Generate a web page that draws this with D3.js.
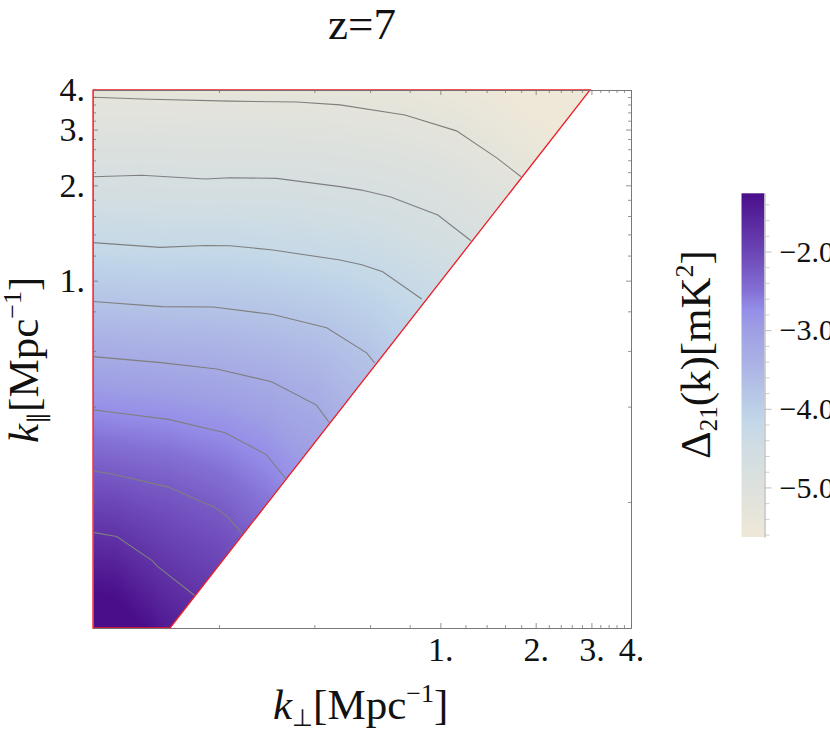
<!DOCTYPE html>
<html>
<head>
<meta charset="utf-8">
<title>z=7</title>
<script src="https://cdn.jsdelivr.net/npm/d3@7"></script>
<style>
  body { margin: 0; background: #fff; }
  text { font-family: "Liberation Serif", serif; fill: #111; }
</style>
</head>
<body>
<script>
const kDomain = [0.08, 4];
const majorTicks = [1, 2, 3, 4];
const minorTicks = [0.2, 0.4, 0.6, 0.8, 1.2, 1.4, 1.6, 1.8, 2.2, 2.4, 2.6, 2.8, 3.2, 3.4, 3.6, 3.8];

// edge of the filled wedge
const wedgePerp = [0.14, 2.97];
const wedgePar = [0.08, 4];

// contour lines, log10(k) for each level
const contourLevels = [-5.25, -4.75, -4.25, -3.75, -3.25, -2.75, -2.25, -1.75];
const contourLogPerp = [
  [-1.097, -0.917, -0.664, -0.453, -0.317, -0.112, 0.051, 0.179, 0.255],
  [-1.097, -0.943, -0.743, -0.664, -0.517, -0.317, -0.249, -0.159, -0.008, 0.097],
  [-1.097, -0.885, -0.743, -0.664, -0.529, -0.317, -0.248, -0.182, -0.059],
  [-1.097, -0.880, -0.718, -0.529, -0.359, -0.233, -0.207],
  [-1.097, -0.882, -0.706, -0.533, -0.391, -0.351],
  [-1.097, -1.043, -0.859, -0.680, -0.549, -0.489],
  [-1.097, -1.038, -0.859, -0.712, -0.672, -0.626],
  [-1.097, -1.022, -0.909, -0.896, -0.775]
];
const contourLogPar = [
  [0.579, 0.573, 0.567, 0.564, 0.555, 0.523, 0.473, 0.387, 0.328],
  [0.328, 0.333, 0.321, 0.325, 0.323, 0.297, 0.286, 0.265, 0.207, 0.126],
  [0.120, 0.105, 0.111, 0.110, 0.097, 0.065, 0.050, 0.028, -0.058],
  [-0.066, -0.082, -0.083, -0.107, -0.149, -0.228, -0.260],
  [-0.240, -0.259, -0.279, -0.319, -0.393, -0.448],
  [-0.408, -0.415, -0.438, -0.480, -0.550, -0.624],
  [-0.601, -0.610, -0.652, -0.716, -0.745, -0.798],
  [-0.795, -0.808, -0.885, -0.900, -0.995]
];

// colour bar
const barDomain = [-5.63, -1.26];
const barMajor = [-5, -4, -3, -2];
const barMinor = [-5.6, -5.4, -5.2, -4.8, -4.6, -4.4, -4.2, -3.8, -3.6, -3.4, -3.2, -2.8, -2.6, -2.4, -2.2, -1.8, -1.6, -1.4];
const colorValues = [-5.63, -5, -4.5, -4.18, -4, -3.5, -3, -2.74, -2.5, -2, -1.26];
const colorHexes = ["#efe8d8", "#dde1dd", "#d0dde3", "#c3d8e8", "#bcd0e8", "#adb6e5", "#9f9fe4", "#948ee8", "#8470d5", "#6b45b5", "#4a0e8a"];

const width = 830, height = 733;
const svg = d3.select("body").append("svg").attr("width", width).attr("height", height);

const x = d3.scaleLog().domain(kDomain).range([93, 631]);
const y = d3.scaleLog().domain(kDomain).range([628, 90]);
const color = d3.scaleLinear().domain(colorValues).range(colorHexes).clamp(true);

// density image: between contours the value is linear along each pixel column
const contourPx = contourLevels.map((level, i) => ({
  level,
  points: contourLogPerp[i].map((p, j) => [x(10 ** p), y(10 ** contourLogPar[i][j])])
}));
const yOfContour = contourPx.map(c =>
  d3.scaleLinear().domain(c.points.map(p => p[0])).range(c.points.map(p => p[1])));

const plotW = 538, plotH = 538;
const canvas = document.createElement("canvas");
canvas.width = plotW;
canvas.height = plotH;
const ctx = canvas.getContext("2d");
const img = ctx.createImageData(plotW, plotH);
for (let i = 0; i < plotW; i++) {
  const ys = yOfContour.map(s => s(93 + i + 0.5));
  const valueAt = d3.scaleLinear().domain(ys).range(contourLevels);
  for (let j = 0; j < plotH; j++) {
    const c = d3.rgb(color(valueAt(90 + j + 0.5)));
    const o = (j * plotW + i) * 4;
    img.data[o] = c.r;
    img.data[o + 1] = c.g;
    img.data[o + 2] = c.b;
    img.data[o + 3] = 255;
  }
}
ctx.putImageData(img, 0, 0);

const wedge = [
  [kDomain[0], wedgePar[0]],
  [wedgePerp[0], wedgePar[0]],
  [wedgePerp[1], wedgePar[1]],
  [kDomain[0], wedgePar[1]]
].map(d => [x(d[0]), y(d[1])]);

svg.append("clipPath").attr("id", "wedge").append("polygon").attr("points", wedge.join(" "));
svg.append("image")
  .attr("x", 93).attr("y", 90).attr("width", plotW).attr("height", plotH)
  .attr("clip-path", "url(#wedge)")
  .attr("href", canvas.toDataURL());

const line = d3.line();
svg.append("g").selectAll("path").data(contourPx).join("path")
  .attr("d", d => line(d.points))
  .attr("fill", "none")
  .attr("stroke", "#7f7f7f")
  .attr("stroke-width", 1.1);

svg.append("polygon")
  .attr("points", wedge.join(" "))
  .attr("fill", "none")
  .attr("stroke", "#ee1c25")
  .attr("stroke-width", 1.3);

// frame and ticks, all pointing inward
function frame(axisFn, scale, tx, ty, labels) {
  const minor = axisFn(scale).tickValues(minorTicks).tickFormat("").tickSizeInner(-3).tickSizeOuter(0);
  const major = axisFn(scale).tickValues(majorTicks).tickSizeInner(-5).tickSizeOuter(0)
    .tickPadding(axisFn === d3.axisBottom ? 9 : 8)
    .tickFormat(labels ? d => d + "." : "");
  for (const a of [minor, major]) {
    const g = svg.append("g").attr("transform", `translate(${tx},${ty})`).call(a);
    g.selectAll("path, line").attr("stroke", "#707070").attr("stroke-opacity", 0.75);
    g.selectAll("text").style("font-family", "Liberation Serif").attr("font-size", 34).attr("fill", "#111");
  }
}
frame(d3.axisBottom, x, 0, 628, true);
frame(d3.axisTop, x, 0, 90, false);
frame(d3.axisLeft, y, 93, 0, true);
frame(d3.axisRight, y, 631, 0, false);

// titles
svg.append("text").attr("x", 362).attr("y", 39).attr("text-anchor", "middle").attr("font-size", 45).text("z=7");

function kLabel(sel, sub) {
  sel.attr("font-size", 43);
  sel.append("tspan").attr("font-style", "italic").text("k");
  sel.append("tspan").attr("font-size", 24).attr("dy", 7).text(sub);
  sel.append("tspan").attr("dy", -7).text("[Mpc");
  sel.append("tspan").attr("font-size", 26).attr("dy", -17).text("\u22121");
  sel.append("tspan").attr("dy", 17).text("]");
}
svg.append("text").attr("x", 273).attr("y", 719).call(kLabel, "\u22A5");
svg.append("text").attr("transform", "translate(38,443) rotate(-90)").call(kLabel, "\u2225");

// colour bar
const bar = d3.scaleLinear().domain(barDomain).range([537, 193.3]);
const grad = svg.append("linearGradient").attr("id", "bar")
  .attr("x1", 0).attr("x2", 0).attr("y1", 1).attr("y2", 0);
grad.selectAll("stop").data(colorValues).join("stop")
  .attr("offset", d => (d - barDomain[0]) / (barDomain[1] - barDomain[0]))
  .attr("stop-color", d => color(d));
svg.append("rect")
  .attr("x", 741.5).attr("y", bar(barDomain[1]))
  .attr("width", 23).attr("height", bar(barDomain[0]) - bar(barDomain[1]))
  .attr("fill", "url(#bar)");

const barMinorG = svg.append("g").attr("transform", "translate(764.5,0)")
  .call(d3.axisRight(bar).tickValues(barMinor).tickFormat("").tickSizeInner(5).tickSizeOuter(0));
barMinorG.selectAll("path, line").attr("stroke", "#cfcfcf");
const barMajorG = svg.append("g").attr("transform", "translate(764.5,0)")
  .call(d3.axisRight(bar).tickValues(barMajor).tickSizeInner(7).tickSizeOuter(0).tickPadding(8));
barMajorG.selectAll("path, line").attr("stroke", "#bdbdbd");
barMajorG.selectAll("text").style("font-family", "Liberation Serif").attr("font-size", 30).attr("fill", "#111");

const barLabel = svg.append("text").attr("transform", "translate(710,459) rotate(-90)").attr("font-size", 43);
barLabel.append("tspan").text("\u0394");
barLabel.append("tspan").attr("font-size", 25).attr("dy", 7).text("21");
barLabel.append("tspan").attr("dy", -7).text("(k)[mK");
barLabel.append("tspan").attr("font-size", 26).attr("dy", -17).text("2");
barLabel.append("tspan").attr("dy", 17).text("]");
</script>
</body>
</html>
